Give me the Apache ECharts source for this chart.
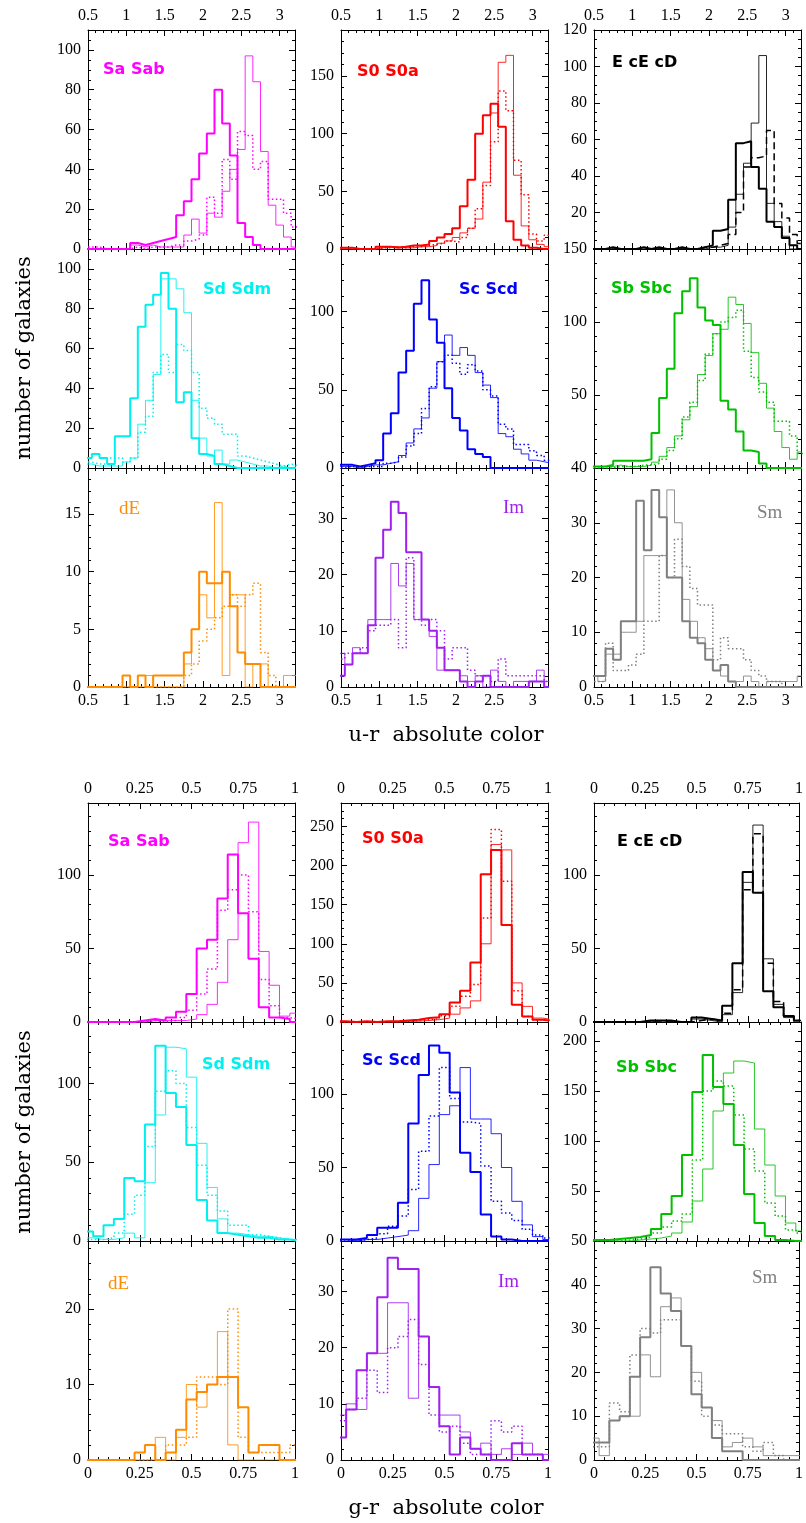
<!DOCTYPE html>
<html><head><meta charset="utf-8">
<script src="https://cdn.jsdelivr.net/npm/echarts@6/dist/echarts.min.js"></script>
<style>html,body{margin:0;padding:0;background:#fff;}#c{width:806px;height:1523px;}</style>
</head><body><div id="c"></div>
<script>
// bin centres
const urBins = [0.5,0.6,0.7,0.8,0.9,1.0,1.1,1.2,1.3,1.4,1.5,1.6,1.7,1.8,1.9,2.0,2.1,2.2,2.3,2.4,2.5,2.6,2.7,2.8,2.9,3.0,3.1,3.2];
const grBins = [0,0.05,0.1,0.15,0.2,0.25,0.3,0.35,0.4,0.45,0.5,0.55,0.6,0.65,0.7,0.75,0.8,0.85,0.9,0.95,1.0];
const urBinWidth = 0.1;
const grBinWidth = 0.05;

// u-r counts
const urSaThick = [0,0,0,0,0,0,3,2,3,4,5,6,17,24,35,48,58,80,63,47,13,6,2,0,0,0,0,0];
const urSaThin  = [0,0,0,0,0,0,2,1,2,1,1,1,1,7,15,8,18,16,29,40,50,97,84,49,22,12,6,1];
const urSaDot   = [1,1,0,0,0,0,1,0,1,1,1,2,2,4,5,7,26,18,45,35,59,57,40,44,25,25,18,11];
const urS0Thick = [1,1,0,0,0,2,2,1,2,3,3,4,7,10,13,18,37,60,100,116,126,106,24,8,3,1,0,0];
const urS0Thin  = [0,0,0,0,0,1,2,2,1,1,2,2,3,5,7,10,14,18,26,58,118,162,168,64,20,8,4,2];
const urS0Dot   = [1,0,0,0,0,1,1,2,1,2,2,3,4,5,7,6,10,18,35,55,93,137,120,77,47,13,7,12];
const urEThick  = [0,0,1,0,0,0,1,0,1,0,0,1,0,0,1,2,10,11,27,58,59,45,33,15,12,6,2,0];
const urEThin   = [0,0,0,0,0,0,0,0,0,0,0,0,0,0,0,1,1,2,12,30,47,69,106,25,15,7,0,0];
const urEDash   = [0,0,0,0,0,0,0,0,0,0,0,0,0,0,1,1,2,3,8,20,45,50,51,65,25,17,8,3];
const urSdThick = [5,7,5,2,16,16,35,71,82,87,98,80,33,38,15,7,6,2,1,0,0,0,0,0,0,0,0,0];
const urSdThin  = [2,1,1,1,1,3,5,22,34,47,95,95,90,78,34,15,6,9,2,4,3,2,1,1,0,1,0,1];
const urSdDot   = [3,2,2,5,5,3,5,18,26,48,57,48,62,59,48,30,25,22,17,17,6,5,4,3,2,1,2,1];
const urScThick = [2,2,1,2,3,5,22,35,61,75,105,120,95,80,51,32,24,12,9,7,0,0,0,0,0,0,0,0];
const urScThin  = [1,1,0,1,2,2,3,4,8,16,25,32,51,68,85,72,77,72,61,53,45,22,20,12,9,5,4,3];
const urScDot   = [0,1,1,1,1,1,3,4,7,14,22,38,52,68,72,67,60,66,62,50,46,28,25,15,15,11,8,5];
const urSbThick = [1,1,2,5,5,5,5,6,24,48,68,106,121,130,110,101,98,46,40,25,12,11,3,0,0,0,0,0];
const urSbThin  = [1,1,1,2,1,1,1,2,4,8,14,22,33,42,64,77,92,95,117,112,99,79,58,41,25,14,6,11];
const urSbDot   = [0,0,0,1,1,1,2,2,3,6,12,20,35,45,60,78,92,100,103,108,80,62,52,45,32,32,22,10];
const urdEThick = [0,0,0,0,0,1,0,1,0,1,1,1,1,3,5,10,9,9,10,7,3,2,2,0,0,0,0,0];
const urdEThin  = [0,0,0,0,0,0,0,0,1,0,0,0,0,2,5,8,6,16,1,8,8,0,2,2,0,0,1,1];
const urdEDot   = [0,0,0,0,0,0,0,0,0,0,0,0,0,1,2,4,5,6,7,8,7,8,9,3,1,0,0,0];
const urImThick = [2,4,6,6,11,23,28,33,31,24,24,12,10,7,3,3,1,0,1,2,0,0,0,0,0,1,1,0];
const urImThin  = [6,4,7,6,12,12,12,22,18,22,12,12,9,3,3,3,2,1,2,0,3,1,0,1,1,1,3,1];
const urImDot   = [5,6,6,7,10,11,11,12,7,23,12,11,12,10,5,7,7,3,2,2,1,5,2,2,2,2,2,1];
const urSmThick = [2,2,7,5,12,12,34,25,36,31,20,20,12,9,8,5,3,4,1,0,0,0,0,0,0,0,0,0];
const urSmThin  = [2,1,6,6,10,10,12,24,24,24,36,30,16,12,9,7,3,2,1,1,2,1,0,1,1,1,1,2];
const urSmDot   = [1,1,8,3,3,4,6,12,12,24,20,27,22,18,15,15,5,9,7,7,5,3,2,1,1,0,0,0];

// g-r counts
const grSaThick = [0,0,0,0,0,1,2,1,3,7,19,50,56,84,114,74,43,10,3,2,0];
const grSaThin  = [0,0,0,0,0,0,1,1,1,1,2,5,12,27,56,122,136,48,25,4,6];
const grSaDot   = [0,0,0,0,0,0,1,0,1,3,8,19,36,76,90,100,75,29,11,3,2];
const grS0Thick = [1,0,1,0,1,1,2,3,5,6,10,25,40,76,189,220,124,22,7,3,1];
const grS0Thin  = [0,0,0,0,0,0,1,1,2,3,5,10,18,27,100,227,220,50,20,5,3];
const grS0Dot   = [0,0,0,0,0,0,1,2,3,4,8,20,33,48,133,246,180,40,7,3,2];
const grEThick  = [0,0,0,0,0,1,1,1,0,0,3,2,1,11,40,102,88,21,10,4,1];
const grEThin   = [0,0,0,0,0,0,1,0,0,0,2,1,0,5,20,95,134,43,12,3,0];
const grEDash   = [0,0,0,0,0,0,0,0,0,0,1,2,1,6,22,90,128,40,14,4,1];
const grSdThick = [6,3,10,14,40,38,74,124,94,85,61,26,13,5,4,3,2,2,1,1,0];
const grSdThin  = [2,1,1,2,5,2,37,80,123,122,104,62,34,14,5,4,3,3,2,1,1];
const grSdDot   = [1,1,2,5,17,29,60,95,108,100,72,48,29,19,10,10,4,3,2,1,1];
const grScThick = [1,1,2,4,9,9,26,80,113,133,128,101,60,47,18,3,1,0,0,0,0];
const grScThin  = [1,0,1,1,2,3,4,7,29,52,86,92,118,83,83,73,50,27,11,3,1];
const grScDot   = [0,0,1,2,5,10,17,35,61,85,118,97,81,80,51,27,19,14,8,4,2];
const grSbThick = [1,1,2,3,4,6,12,27,45,86,149,186,154,137,96,47,18,5,1,0,0];
const grSbThin  = [0,0,0,0,1,2,3,5,8,19,40,72,130,168,180,178,112,76,45,18,10];
const grSbDot   = [0,0,0,1,2,4,8,14,20,27,81,150,160,155,126,92,70,38,25,11,8];
const grdEThick = [0,0,0,0,0,1,2,0,1,4,8,9,10,11,11,7,1,2,2,0,0];
const grdEThin  = [0,0,0,0,0,0,0,3,0,3,10,7,10,17,2,0,0,0,0,0,0];
const grdEDot   = [0,0,0,0,0,0,0,0,2,2,3,11,11,10,20,3,1,1,1,1,2];
const grImThick = [4,9,16,19,29,36,34,34,22,13,6,1,4,2,1,0,0,3,1,1,0];
const grImThin  = [8,10,9,19,19,28,28,11,22,13,8,8,5,2,3,1,2,1,3,1,1];
const grImDot   = [7,9,11,16,12,20,22,25,17,8,5,6,3,1,1,7,5,6,1,1,0];
const grSmThick = [4,4,9,10,19,28,44,38,34,26,15,12,5,2,2,0,0,0,0,0,0];
const grSmThin  = [5,1,9,10,10,24,19,35,37,26,20,12,9,3,4,5,3,1,1,1,1];
const grSmDot   = [3,3,13,11,24,30,29,32,32,26,18,10,8,6,6,3,2,4,1,0,0];

const C = {Sa:'#ff00ff', S0:'#ff0000', E:'#000000', Sd:'#00f0f0', Sc:'#0000ff', Sb:'#00c000', dE:'#ff8c00', Im:'#a020f0', Sm:'#808080'};

const panels = [
 // u-r block
 {b:0,r:0,c:0,name:'Sa Sab',col:C.Sa,ymax:110,yi:20,ys:4,d:[urSaThick,urSaThin,urSaDot],lx:103,ly:70,serif:false},
 {b:0,r:0,c:1,name:'S0 S0a',col:C.S0,ymax:190,yi:50,ys:5,d:[urS0Thick,urS0Thin,urS0Dot],lx:357,ly:72,serif:false},
 {b:0,r:0,c:2,name:'E cE cD',col:C.E,ymax:120,yi:20,ys:4,d:[urEThick,urEThin,urEDash],dash:true,lx:612,ly:63,serif:false,maxL:true,minL:false},
 {b:0,r:1,c:0,name:'Sd Sdm',col:C.Sd,ymax:110,yi:20,ys:4,d:[urSdThick,urSdThin,urSdDot],lx:203,ly:290,serif:false},
 {b:0,r:1,c:1,name:'Sc Scd',col:C.Sc,ymax:140,yi:50,ys:5,d:[urScThick,urScThin,urScDot],lx:459,ly:290,serif:false},
 {b:0,r:1,c:2,name:'Sb Sbc',col:C.Sb,ymax:150,yi:50,ys:5,d:[urSbThick,urSbThin,urSbDot],lx:611,ly:289,serif:false,maxL:true,minL:false},
 {b:0,r:2,c:0,name:'dE',col:C.dE,ymax:19,yi:5,ys:5,d:[urdEThick,urdEThin,urdEDot],lx:119,ly:509,serif:true},
 {b:0,r:2,c:1,name:'Im',col:C.Im,ymax:39,yi:10,ys:5,d:[urImThick,urImThin,urImDot],lx:503,ly:508,serif:true},
 {b:0,r:2,c:2,name:'Sm',col:C.Sm,ymax:40,yi:10,ys:5,d:[urSmThick,urSmThin,urSmDot],lx:757,ly:513,serif:true,maxL:true},
 // g-r block
 {b:1,r:0,c:0,name:'Sa Sab',col:C.Sa,ymax:149,yi:50,ys:5,d:[grSaThick,grSaThin,grSaDot],lx:108,ly:842,serif:false},
 {b:1,r:0,c:1,name:'S0 S0a',col:C.S0,ymax:280,yi:50,ys:5,d:[grS0Thick,grS0Thin,grS0Dot],lx:362,ly:839,serif:false},
 {b:1,r:0,c:2,name:'E cE cD',col:C.E,ymax:149,yi:50,ys:5,d:[grEThick,grEThin,grEDash],dash:true,lx:617,ly:842,serif:false},
 {b:1,r:1,c:0,name:'Sd Sdm',col:C.Sd,ymax:139,yi:50,ys:5,d:[grSdThick,grSdThin,grSdDot],lx:202,ly:1065,serif:false},
 {b:1,r:1,c:1,name:'Sc Scd',col:C.Sc,ymax:149,yi:50,ys:5,d:[grScThick,grScThin,grScDot],lx:362,ly:1061,serif:false},
 {b:1,r:1,c:2,name:'Sb Sbc',col:C.Sb,ymax:219,yi:50,ys:5,d:[grSbThick,grSbThin,grSbDot],lx:616,ly:1068,serif:false,minL:false},
 {b:1,r:2,c:0,name:'dE',col:C.dE,ymax:29,yi:10,ys:5,d:[grdEThick,grdEThin,grdEDot],lx:108,ly:1284,serif:true},
 {b:1,r:2,c:1,name:'Im',col:C.Im,ymax:39,yi:10,ys:5,d:[grImThick,grImThin,grImDot],lx:498,ly:1282,serif:true},
 {b:1,r:2,c:2,name:'Sm',col:C.Sm,ymax:50,yi:10,ys:5,d:[grSmThick,grSmThin,grSmDot],lx:752,ly:1278,serif:true,maxL:true}
];

const colLeft = [88, 341, 594];
const rowTop = [[30, 249, 468], [803, 1022, 1241]];
const PW = 207, PH = 219;

function steps(bins, w, counts) {
  const pts = [];
  bins.forEach((c, i) => { pts.push([c - w / 2, counts[i]]); pts.push([c + w / 2, counts[i]]); });
  return pts;
}

const labelFont = {fontFamily: 'Liberation Serif', fontSize: 16, color: '#000'};
const grids = [], xAxes = [], yAxes = [], series = [], graphics = [];

panels.forEach((p, g) => {
  const ur = p.b === 0;
  grids.push({left: colLeft[p.c], top: rowTop[p.b][p.r], width: PW, height: PH});
  const xb = {
    type: 'value', gridIndex: g, min: ur ? 0.5 : 0, max: ur ? 3.2 : 1, interval: ur ? 0.5 : 0.25,
    splitLine: {show: false},
    axisLine: {show: true, onZero: false, lineStyle: {color: '#000', width: 1}},
    axisTick: {show: true, inside: true, length: 6, lineStyle: {color: '#000', width: 1}},
    minorTick: {show: true, splitNumber: 5, length: 3, lineStyle: {color: '#000', width: 1}}
  };
  xAxes.push(Object.assign({}, xb, {position: 'bottom',
    axisLabel: Object.assign({show: p.r === 2, margin: 6, showMaxLabel: !ur, showMinLabel: true}, labelFont)}));
  xAxes.push(Object.assign({}, xb, {position: 'top',
    axisLabel: Object.assign({show: p.r === 0, margin: 6, showMaxLabel: !ur, showMinLabel: true}, labelFont)}));
  const yb = {
    type: 'value', gridIndex: g, min: 0, max: p.ymax, interval: p.yi,
    splitLine: {show: false},
    axisLine: {show: true, onZero: false, lineStyle: {color: '#000', width: 1}},
    axisTick: {show: true, inside: true, length: 6, lineStyle: {color: '#000', width: 1}},
    minorTick: {show: true, splitNumber: p.ys, length: 3, lineStyle: {color: '#000', width: 1}}
  };
  yAxes.push(Object.assign({}, yb, {position: 'left',
    axisLabel: Object.assign({show: true, margin: 7, showMaxLabel: !!p.maxL, showMinLabel: p.minL !== false}, labelFont)}));
  yAxes.push(Object.assign({}, yb, {position: 'right', axisLabel: {show: false}}));

  const bins = ur ? urBins : grBins;
  const w = ur ? urBinWidth : grBinWidth;
  const styles = [
    {color: p.col, width: 2},
    {color: p.col, width: 1, opacity: 0.85},
    {color: p.col, width: 1.5, type: p.dash ? [7, 4] : [1.5, 2.5]}
  ];
  [2, 1, 0].forEach(k => {
    series.push({
      type: 'line', xAxisIndex: 2 * g, yAxisIndex: 2 * g,
      data: steps(bins, w, p.d[k]), showSymbol: false, symbol: 'none',
      clip: true, animation: false, silent: true,
      itemStyle: {color: p.col}, lineStyle: styles[k], z: 3 + (2 - k)
    });
  });
  graphics.push({
    type: 'text', x: p.lx, y: p.ly, z: 50,
    style: {text: p.name, fill: p.col,
      font: p.serif ? '19px "Liberation Serif"' : 'bold 16px "DejaVu Sans"',
      textAlign: 'left', textVerticalAlign: 'middle', align: 'left', verticalAlign: 'middle'}
  });
});

const titleFont = '21px "DejaVu Serif"';
[[358], [1132]].forEach(([cy]) => {
  graphics.push({type: 'text', x: 25, y: cy, rotation: Math.PI / 2, z: 50,
    style: {text: 'number of galaxies', fill: '#000', font: titleFont,
      textAlign: 'center', textVerticalAlign: 'middle', align: 'center', verticalAlign: 'middle'}});
});
graphics.push({type: 'text', x: 446, y: 736, z: 50,
  style: {text: 'u-r  absolute color', fill: '#000', font: titleFont,
    textAlign: 'center', textVerticalAlign: 'middle', align: 'center', verticalAlign: 'middle'}});
graphics.push({type: 'text', x: 446, y: 1509, z: 50,
  style: {text: 'g-r  absolute color', fill: '#000', font: titleFont,
    textAlign: 'center', textVerticalAlign: 'middle', align: 'center', verticalAlign: 'middle'}});

const chart = echarts.init(document.getElementById('c'), null, {renderer: 'canvas'});
chart.setOption({
  animation: false,
  backgroundColor: '#fff',
  grid: grids, xAxis: xAxes, yAxis: yAxes, series: series, graphic: graphics
});
</script></body></html>
